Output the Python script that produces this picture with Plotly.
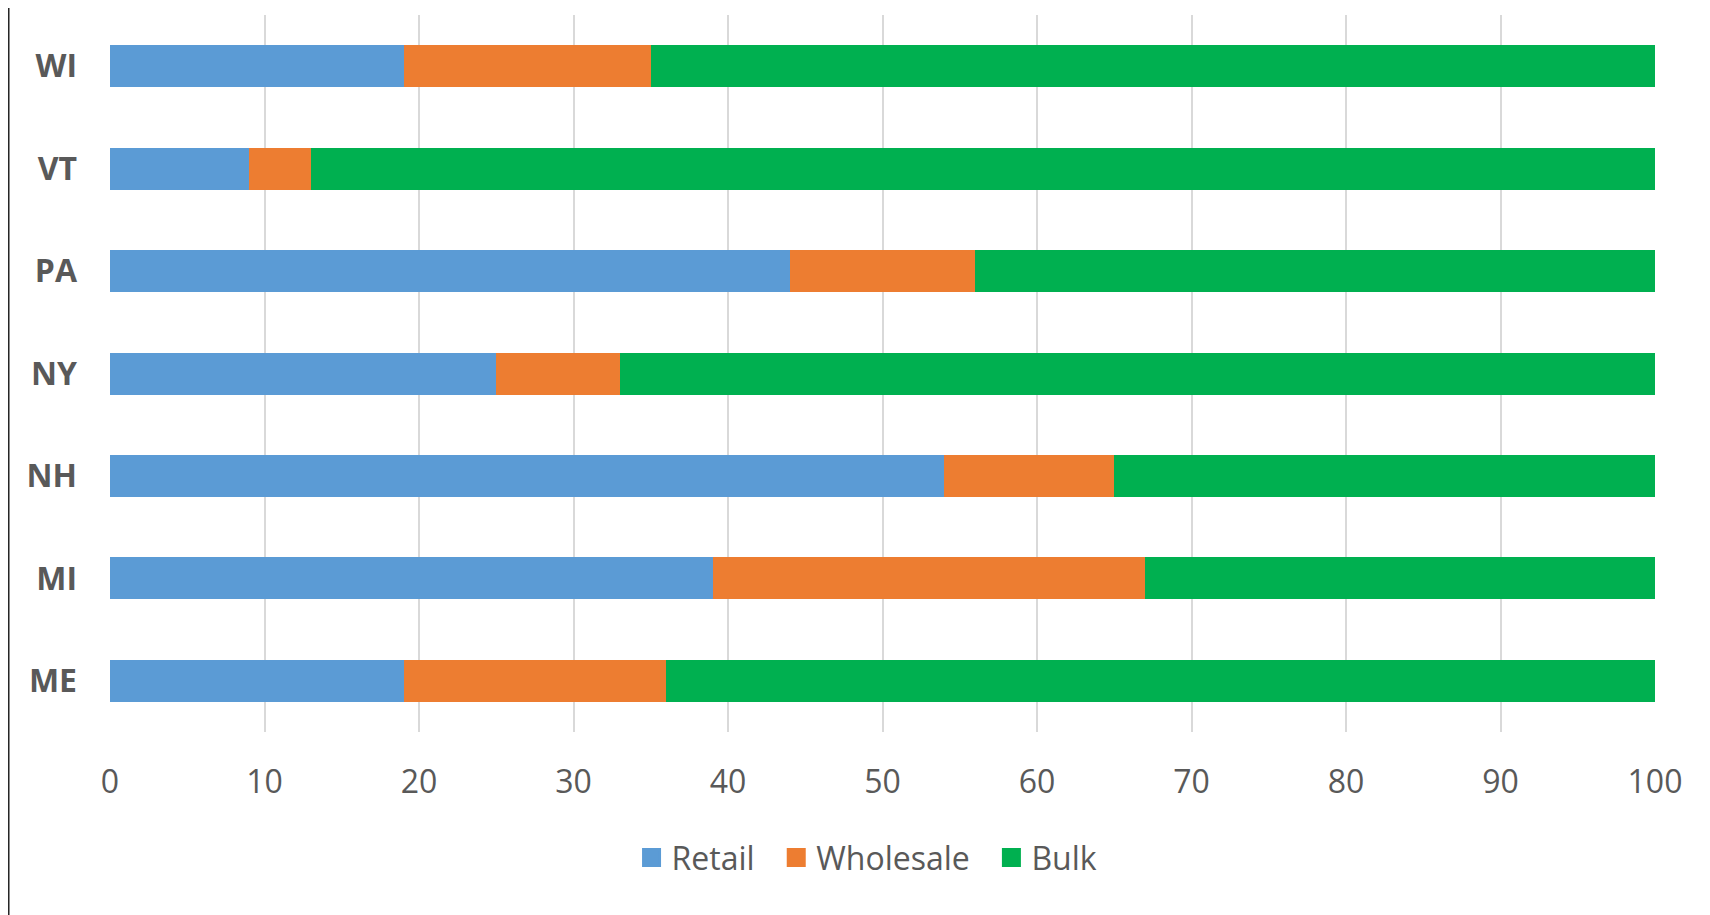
import plotly.graph_objects as go

states = ["ME", "MI", "NH", "NY", "PA", "VT", "WI"]
retail = [19, 39, 54, 25, 44, 9, 19]
wholesale = [17, 28, 11, 8, 12, 4, 16]
bulk = [64, 33, 35, 67, 44, 87, 65]
series_names = ["Retail", "Wholesale", "Bulk"]
series_colors = ["#5B9BD5", "#ED7D31", "#00B050"]
x_ticks = [0, 10, 20, 30, 40, 50, 60, 70, 80, 90, 100]

FONT = "Open Sans"
TXT = "#595959"

fig = go.Figure()
for i, (name, vals, col) in enumerate(zip(series_names, [retail, wholesale, bulk], series_colors)):
    fig.add_trace(go.Bar(
        y=states, x=vals, name=name, orientation="h",
        marker=dict(color=col, line=dict(width=0)),
        showlegend=False,
    ))
    pad = "\u00a0\u00a0" if i < len(series_names) - 1 else ""
    fig.add_trace(go.Scatter(
        x=[None], y=[None], mode="markers", name=name + pad,
        marker=dict(symbol="square", size=16, color=col, line=dict(width=3, color=col)),
        showlegend=True,
    ))

fig.update_layout(
    width=1710, height=915,
    barmode="stack", bargap=0.59,
    paper_bgcolor="white", plot_bgcolor="white",
    margin=dict(l=102, r=63, t=7, b=191),
    font=dict(family=FONT, color=TXT),
    showlegend=True,
    legend=dict(
        orientation="h", x=0.49, xanchor="center", y=-0.137, yanchor="top",
        font=dict(family=FONT, size=32, color=TXT),
        traceorder="normal",
    ),
    xaxis=dict(
        range=[0, 100], tickvals=x_ticks, showgrid=True, gridcolor="#D9D9D9", gridwidth=2,
        zeroline=False, showline=False, ticks="",
        tickfont=dict(family=FONT, size=32, color=TXT),
        ticklabelstandoff=28,
    ),
    yaxis=dict(
        categoryorder="array", categoryarray=states,
        showgrid=False, zeroline=False, showline=False, ticks="",
        tickfont=dict(family=FONT, size=32, color=TXT, weight="bold"),
        ticklabelstandoff=32,
    ),
    shapes=[dict(type="line", xref="paper", yref="paper",
                 x0=-0.066, x1=-0.066, y0=-1, y1=2,
                 line=dict(color="#262626", width=3))],
)

fig.write_html("out.html")
